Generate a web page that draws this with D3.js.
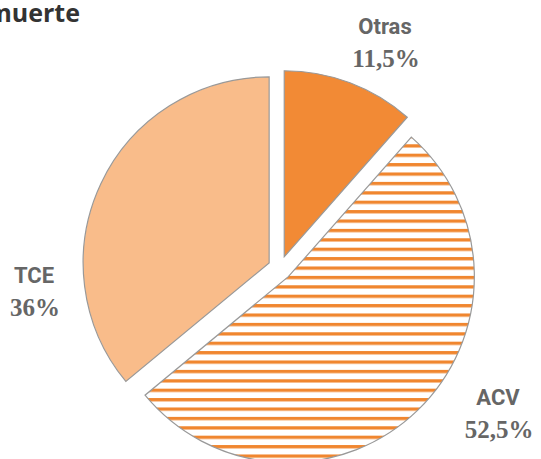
<!DOCTYPE html>
<html><head><meta charset="utf-8">
<script src="https://cdn.jsdelivr.net/npm/d3@7/dist/d3.min.js"></script>
<style>html,body{margin:0;padding:0;background:#fff;overflow:hidden}</style>
</head><body>
<script>
const categories = ["Otras", "ACV", "TCE"];
const values = [11.5, 52.5, 36];
const valueLabels = ["11,5%", "52,5%", "36%"];
const title = "muerte";

const W = 541, H = 459;
const svg = d3.select("body").append("svg").attr("width", W).attr("height", H);
const defs = svg.append("defs");
const pat = defs.append("pattern").attr("id", "stripes")
  .attr("patternUnits", "userSpaceOnUse").attr("x", 0).attr("y", -0.75)
  .attr("width", 20).attr("height", 9.4);
pat.append("rect").attr("width", 20).attr("height", 9.4).attr("fill", "#fff");
pat.append("rect").attr("y", 0).attr("width", 20).attr("height", 3.3).attr("fill", "#F0862F");

const fills = {"Otras": "#F28A35", "ACV": "url(#stripes)", "TCE": "#F9BC8A"};
const R = 186, cx = 280, cy = 268, explode = 12;
const pie = d3.pie().sort(null).value(d => d.v);
const arcs = pie(categories.map((c, i) => ({c, v: values[i], l: valueLabels[i]})));
const arc = d3.arc().innerRadius(0).outerRadius(R);

svg.selectAll("path.slice").data(arcs).enter().append("path")
  .attr("class", "slice")
  .attr("transform", d => {
    const m = (d.startAngle + d.endAngle) / 2;
    return `translate(${cx + explode * Math.sin(m)},${cy - explode * Math.cos(m)})`;
  })
  .attr("d", arc)
  .attr("fill", d => fills[d.data.c])
  .attr("stroke", "#999").attr("stroke-width", 1.2);

const labelPos = {"Otras": [385, 34], "ACV": [498, 405], "TCE": [34, 283]};
arcs.forEach(d => {
  const p = labelPos[d.data.c];
  svg.append("text").attr("x", p[0]).attr("y", p[1]).attr("text-anchor", "middle")
    .attr("font-family", "Roboto, sans-serif").attr("font-weight", "bold")
    .attr("font-size", 22).attr("fill", "#666").text(d.data.c);
  svg.append("text").attr("x", p[0] + 1).attr("y", p[1] + 33).attr("text-anchor", "middle")
    .attr("font-family", "'Liberation Serif', serif").attr("font-weight", "bold")
    .attr("font-size", 25).attr("fill", "#666").text(d.data.l);
});

svg.append("text").attr("x", 80).attr("y", 22).attr("text-anchor", "end")
  .attr("font-family", "'Open Sans', sans-serif").attr("font-weight", "bold")
  .attr("font-size", 25).attr("fill", "#333").text(title);
</script>
</body></html>
